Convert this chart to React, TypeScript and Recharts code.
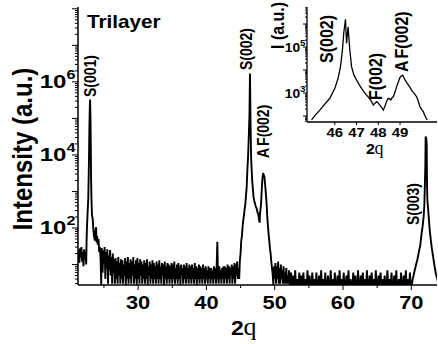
import React from 'react';
import { LineChart, Line, XAxis, YAxis } from 'recharts';

// ---------- main scan data (2θ in degrees, intensity in counts) ----------
const leftNoiseStart = 21.2;
const leftNoise = [14, 25, 11, 28, 16, 30, 12, 22, 9, 26, 15, 20, 10];

const peak001: [number, number][] = [
  [22.45, 40], [22.5, 90], [22.6, 250], [22.7, 600], [22.8, 6000], [22.87, 60000],
  [22.93, 200000], [22.97, 330000], [23.02, 120000], [23.07, 20000], [23.12, 2000],
  [23.17, 620], [23.25, 220], [23.35, 180], [23.45, 90], [23.55, 60], [23.65, 45],
  [23.75, 80], [23.85, 105], [23.92, 40], [24.0, 60], [24.1, 35], [24.2, 50],
  [24.3, 22], [24.4, 30], [24.5, 15], [24.6, 2.8], [24.65, 20],
];

const midNoiseStart = 24.7;
const midNoise = [
  28, 6, 24, 10, 30, 4, 22, 8, 26, 3, 18, 7, 25, 5, 16, 3, 20, 6, 14, 3,
  15, 4, 12, 3, 16, 5, 11, 3, 14, 4, 13, 3, 10, 5, 15, 2.8, 12, 4, 16, 3,
  11, 4, 14, 3, 12, 5, 16, 3, 10, 4, 13, 2.8, 15, 4, 11, 3, 14, 5, 12, 3,
  10, 4, 13, 3, 11, 4, 14, 2.8, 9, 5, 12, 3, 10, 4, 13, 3, 11, 4, 9, 3,
  12, 4, 10, 3, 13, 4, 9, 3, 11, 5, 10, 2.8, 12, 4, 9, 3, 11, 4, 10, 3,
  9, 4, 11, 3, 10, 4, 12, 3, 8, 4, 10, 3, 11, 4, 9, 2.8, 10, 5, 8, 3,
  10, 4, 9, 3, 11, 4, 8, 3, 10, 4, 9, 3, 10, 4, 8, 3, 11, 4, 9, 2.8,
  8, 4, 10, 3, 9, 4, 8, 3, 10, 4, 8, 3, 9, 4, 7, 3, 9, 4, 8, 3,
  8, 4, 7, 3, 9, 4, 8, 3, 9, 42, 5, 3, 9, 4, 7, 3, 8, 4, 9, 3,
  9, 4, 8, 3, 10, 4, 9, 3, 8, 5, 10, 3, 9, 4, 11, 3, 10, 5, 12, 4,
];

const peak002: [number, number][] = [
  [44.7, 8], [44.8, 4], [44.9, 13], [45.0, 20], [45.1, 45], [45.2, 60], [45.3, 110],
  [45.4, 165], [45.5, 230], [45.6, 330], [45.7, 450], [45.8, 800], [45.9, 1350],
  [46.0, 4000], [46.1, 9000], [46.2, 30000], [46.3, 120000], [46.38, 1700000],
  [46.46, 80000], [46.55, 8000], [46.6, 5000], [46.7, 2000], [46.8, 1200], [46.9, 700],
  [47.0, 560], [47.1, 480], [47.2, 400], [47.3, 360], [47.4, 320], [47.5, 260],
  [47.6, 240], [47.7, 170], [47.8, 140], [47.85, 260], [47.9, 300], [48.0, 450],
  [48.1, 1100], [48.2, 2200], [48.3, 3200], [48.4, 2800], [48.5, 2500], [48.6, 1500],
  [48.7, 900], [48.8, 500], [48.9, 220], [49.0, 120], [49.1, 70], [49.2, 45],
  [49.3, 28], [49.4, 20], [49.5, 12], [49.6, 8], [49.7, 5.5], [49.8, 2.8], [49.9, 9],
  [50.0, 4],
];

const highNoiseStart = 50.1;
const highNoise = [
  11, 3, 9, 4, 12, 3, 8, 3, 10, 4, 7, 3, 9, 3, 6, 3, 8, 3, 5, 3,
  7, 2.8, 2.8, 6, 2.8, 2.8, 5, 2.8, 2.8, 7, 2.8, 2.8, 4, 2.8, 2.8, 6, 2.8, 2.8, 5, 2.8,
  2.8, 6, 2.8, 2.8, 4, 2.8, 2.8, 7, 2.8, 2.8, 5, 2.8, 2.8, 2.8, 6, 2.8, 2.8, 4, 2.8, 2.8,
  6, 2.8, 2.8, 2.8, 5, 2.8, 2.8, 7, 2.8, 2.8, 4, 2.8, 2.8, 6, 2.8, 2.8, 2.8, 5, 2.8, 2.8,
  2.8, 7, 2.8, 2.8, 4, 2.8, 2.8, 6, 2.8, 2.8, 2.8, 5, 2.8, 2.8, 7, 2.8, 2.8, 4, 2.8, 2.8,
  6, 2.8, 2.8, 2.8, 5, 2.8, 2.8, 7, 2.8, 2.8, 4, 2.8, 2.8, 2.8, 6, 2.8, 2.8, 5, 2.8, 2.8,
  2.8, 7, 2.8, 2.8, 2.8, 5, 2.8, 2.8, 6, 2.8, 2.8, 4, 2.8, 2.8, 7, 2.8, 2.8, 2.8, 5, 2.8,
  2.8, 6, 2.8, 2.8, 4, 2.8, 2.8, 7, 2.8, 2.8, 2.8, 5, 2.8, 2.8, 6, 2.8, 2.8, 4, 2.8, 2.8,
  5, 2.8, 2.8, 2.8, 7, 2.8, 2.8, 4, 2.8, 2.8, 6, 2.8, 2.8, 2.8, 5, 2.8, 2.8, 7, 2.8, 2.8,
  2.8, 4, 2.8, 2.8, 6, 2.8, 2.8, 2.8, 5, 2.8, 2.8, 7, 2.8, 2.8, 4, 2.8, 2.8, 6, 2.8, 2.8,
];

const peak003: [number, number][] = [
  [70.1, 3], [70.2, 4], [70.3, 4.7], [70.5, 7], [70.7, 10], [70.9, 14], [71.1, 22],
  [71.3, 33], [71.5, 70], [71.65, 110], [71.8, 200], [71.9, 380], [72.0, 2000],
  [72.05, 5000], [72.1, 32000], [72.18, 28000], [72.25, 20000], [72.3, 1500],
  [72.35, 600], [72.45, 350], [72.55, 200], [72.65, 110], [72.75, 70], [72.9, 40],
  [73.0, 28], [73.2, 16], [73.4, 9], [73.6, 5.5], [73.8, 4], [74.0, 3],
];

// ---------- inset data ----------
const insetScan: [number, number][] = [
  [44.93, 68], [45.1, 110], [45.31, 180], [45.5, 300], [45.77, 590], [46.0, 1600],
  [46.15, 4400], [46.26, 14000], [46.35, 74000], [46.41, 400000], [46.49, 1600000],
  [46.54, 145000], [46.61, 760000], [46.69, 74000], [46.77, 14000], [46.88, 6000],
  [47.0, 3700], [47.1, 2500], [47.23, 1600], [47.35, 1100], [47.46, 810], [47.58, 600],
  [47.69, 420], [47.77, 300], [47.84, 355], [47.92, 420], [47.98, 380], [48.07, 300],
  [48.15, 240], [48.23, 180], [48.3, 260], [48.35, 355], [48.42, 520], [48.46, 590],
  [48.52, 560], [48.57, 500], [48.63, 620], [48.69, 690], [48.77, 1100], [48.84, 1860],
  [48.92, 3000], [49.0, 4800], [49.06, 5500], [49.12, 6000], [49.18, 4600], [49.23, 3700],
  [49.3, 2900], [49.38, 2240], [49.45, 1800], [49.53, 1350], [49.6, 1100], [49.68, 900],
  [49.76, 690], [49.82, 500], [49.92, 250], [50.0, 190], [50.07, 155], [50.15, 100],
  [50.25, 68],
];

// ---------- axes ----------
const mainXDomain: [number, number] = [21.2, 73.76];
const mainYDomain: [number, number] = [2.75, 1.12e8];
const mainXTicks = [25, 30, 35, 40, 45, 50, 55, 60, 65, 70];
const mainXLabels = [30, 40, 50, 60, 70];
const mainYLabels = [1e2, 1e4, 1e6];

const insetXDomain: [number, number] = [44.72, 50.7];
const insetYDomain: [number, number] = [55, 5.5e6];
const insetXTicks = [46, 47, 48, 49];
const insetYLabels = [1e3, 1e5];

const decades = [1, 10, 100, 1e3, 1e4, 1e5, 1e6, 1e7, 1e8];
const mantissas = [1, 2, 3, 4, 5, 6, 7, 8, 9];
const logTicks = (dom: [number, number]) => {
  const out: number[] = [];
  decades.forEach((d) => mantissas.forEach((m) => {
    const v = m * d;
    if (v >= dom[0] && v <= dom[1]) out.push(v);
  }));
  return out;
};

const evenRows = (start: number, vals: number[]) =>
  vals.map((v, i) => ({ x: Math.round((start + i * 0.1) * 100) / 100, y: v }));
const pairRows = (p: [number, number][]) => p.map(([x, y]) => ({ x, y }));

const mainData = [
  ...evenRows(leftNoiseStart, leftNoise),
  ...pairRows(peak001),
  ...evenRows(midNoiseStart, midNoise),
  ...pairRows(peak002),
  ...evenRows(highNoiseStart, highNoise),
  ...pairRows(peak003),
];
const insetData = pairRows(insetScan);

// ---------- text helpers ----------
const SX = 1.15;
const SANS = '"Liberation Sans", Arial, Helvetica, sans-serif';
const SERIF = '"Liberation Serif", "Times New Roman", serif';

function ST({ x, y, size, rot = false, anchor = 'start', sx = SX, children }: any) {
  return (
    <g transform={`translate(${x},${y}) scale(${sx},1)${rot ? ' rotate(-90)' : ''}`}>
      <text x={0} y={0} fontSize={size} fontFamily={SANS} fontWeight="bold" textAnchor={anchor} fill="#000">
        {children}
      </text>
    </g>
  );
}

const isDecade = (v: number) => Math.abs(Math.log10(v) - Math.round(Math.log10(v))) < 1e-9;

const MainYTick = (props: any) => {
  const { x, y, payload } = props;
  const v = payload.value;
  const major = isDecade(v);
  const len = major ? 6 : 3;
  const lab = mainYLabels.some((l) => Math.abs(l - v) < 1e-6 * l);
  return (
    <g>
      <line x1={x - len} x2={x} y1={y} y2={y} stroke="#000" strokeWidth={1} />
      {lab && (
        <ST x={x - 2.5} y={y + 6.5} size={18.5} anchor="end" sx={1.3}>
          <tspan>10</tspan>
          <tspan dy={-9} fontSize={12.5}>{Math.round(Math.log10(v))}</tspan>
        </ST>
      )}
    </g>
  );
};

const MainXTick = (props: any) => {
  const { x, y, payload } = props;
  const v = payload.value;
  const lab = mainXLabels.includes(v);
  return (
    <g>
      <line x1={x} x2={x} y1={y} y2={y + (lab ? 5 : 3)} stroke="#000" strokeWidth={1} />
      {lab && <ST x={x} y={y + 24} size={19} anchor="middle">{v}</ST>}
    </g>
  );
};

const InsetYTick = (props: any) => {
  const { x, y, payload } = props;
  const v = payload.value;
  const major = isDecade(v);
  const len = major ? 4 : 2;
  const lab = insetYLabels.some((l) => Math.abs(l - v) < 1e-6 * l);
  return (
    <g>
      <line x1={x - len} x2={x} y1={y} y2={y} stroke="#000" strokeWidth={1} />
      {lab && (
        <ST x={x - 1.5} y={y + 4.5} size={12} anchor="end">
          <tspan>10</tspan>
          <tspan dy={-6} fontSize={8.5}>{Math.round(Math.log10(v))}</tspan>
        </ST>
      )}
    </g>
  );
};

const InsetXTick = (props: any) => {
  const { x, y, payload } = props;
  return (
    <g>
      <line x1={x} x2={x} y1={y} y2={y + 3} stroke="#000" strokeWidth={1} />
      <ST x={x} y={y + 14.5} size={13} anchor="middle">{payload.value}</ST>
    </g>
  );
};

export default function App() {
  return (
    <div style={{ position: 'absolute', left: 0, top: 0, width: 438, height: 344, background: '#fff', overflow: 'hidden' }}>
      <div style={{ position: 'absolute', left: 0, top: 0 }}>
        <LineChart width={438} height={344} data={mainData} margin={{ top: 7, right: 1, bottom: 0, left: 0 }}>
          <XAxis
            type="number" dataKey="x" domain={mainXDomain} allowDataOverflow ticks={mainXTicks} interval={0}
            height={59} tickSize={0} tickMargin={0} tickLine={false} tick={<MainXTick />}
            axisLine={{ stroke: '#000', strokeWidth: 1.5 }}
          />
          <XAxis
            xAxisId="top" orientation="top" type="number" domain={mainXDomain} allowDataOverflow height={0}
            tick={false} tickLine={false} axisLine={{ stroke: '#000', strokeWidth: 2.5 }}
          />
          <YAxis
            type="number" scale="log" domain={mainYDomain} allowDataOverflow ticks={logTicks(mainYDomain)} interval={0}
            width={78} tickSize={0} tickMargin={0} tickLine={false} tick={<MainYTick />}
            axisLine={{ stroke: '#000', strokeWidth: 1.5 }}
          />
          <Line type="linear" dataKey="y" stroke="#000" strokeWidth={1.9} dot={false} isAnimationActive={false} />
        </LineChart>
      </div>
      <div style={{ position: 'absolute', left: 250, top: 0 }}>
        <LineChart width={188} height={160} data={insetData} margin={{ top: 7, right: 1, bottom: 0, left: 0 }}>
          <XAxis
            type="number" dataKey="x" domain={insetXDomain} allowDataOverflow ticks={insetXTicks} interval={0}
            height={38} tickSize={0} tickMargin={0} tickLine={false} tick={<InsetXTick />}
            axisLine={{ stroke: '#000', strokeWidth: 1.3 }}
          />
          <YAxis
            type="number" scale="log" domain={insetYDomain} allowDataOverflow ticks={logTicks(insetYDomain)} interval={0}
            width={57} tickSize={0} tickMargin={0} tickLine={false} tick={<InsetYTick />}
            axisLine={{ stroke: '#000', strokeWidth: 1.3 }}
          />
          <Line type="linear" dataKey="y" stroke="#000" strokeWidth={1.3} dot={false} isAnimationActive={false} />
        </LineChart>
      </div>
      <svg width={438} height={344} style={{ position: 'absolute', left: 0, top: 0, pointerEvents: 'none' }}>
        <ST x={87} y={28} size={18}>Trilayer</ST>
        <ST x={32} y={149} size={24} rot anchor="middle">Intensity (a.u.)</ST>
        <g transform="translate(231,335)">
          <text fontFamily={SANS} fontWeight="bold" fontSize={20} transform={`scale(${SX},1)`}>2</text>
          <text x={12.5} fontFamily={SERIF} fontSize={26}>q</text>
        </g>
        <ST x={96} y={97} size={14} rot>S(001)</ST>
        <ST x={252} y={70} size={14} rot>S(002)</ST>
        <ST x={269} y={158} size={14} rot><tspan>A</tspan><tspan dx={2}>F(002)</tspan></ST>
        <ST x={419} y={225} size={14} rot>S(003)</ST>
        <ST x={284} y={49} size={16} rot>I (a.u.)</ST>
        <ST x={333} y={63} size={16} rot>S(002)</ST>
        <ST x={381.5} y={100} size={16} rot>F(002)</ST>
        <ST x={407.5} y={72} size={16} rot><tspan>A</tspan><tspan dx={2}>F(002)</tspan></ST>
        <g transform="translate(366,154)">
          <text fontFamily={SANS} fontWeight="bold" fontSize={14} transform={`scale(${SX},1)`}>2</text>
          <text x={8.5} fontFamily={SERIF} fontSize={18}>q</text>
        </g>
      </svg>
    </div>
  );
}
